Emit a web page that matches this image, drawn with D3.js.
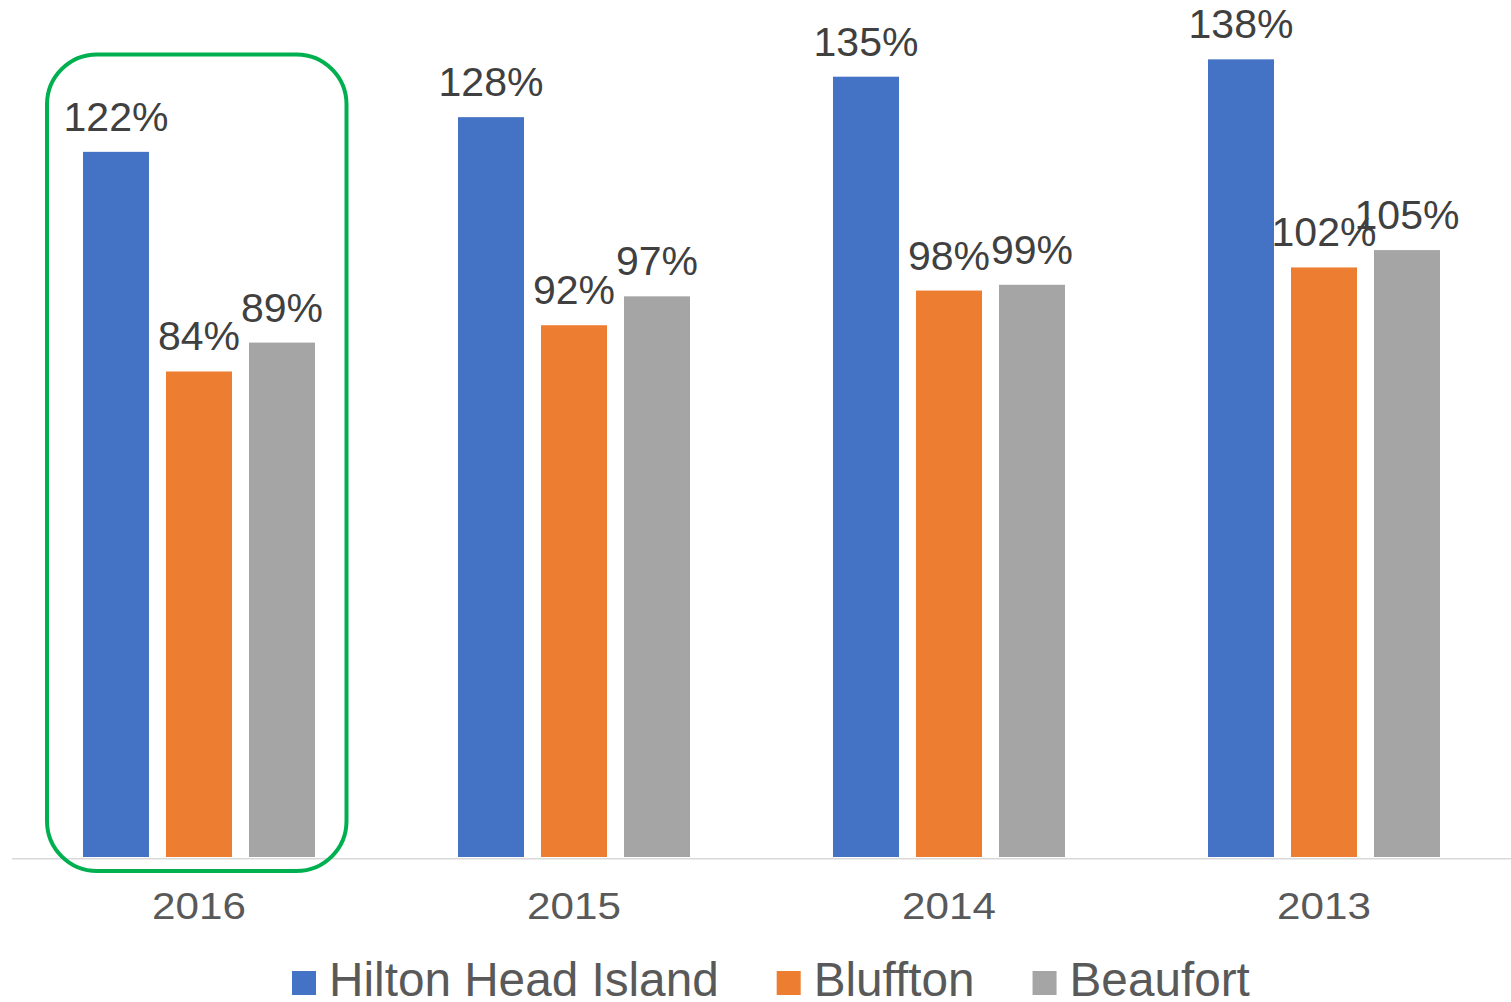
<!DOCTYPE html>
<html>
<head>
<meta charset="utf-8">
<script src="https://cdn.jsdelivr.net/npm/d3@7"></script>
<style>
  html, body { margin: 0; padding: 0; background: #ffffff; }
  svg { display: block; font-family: Arial, "Liberation Sans", sans-serif; }
</style>
</head>
<body>
<svg id="chart" width="1511" height="1002"></svg>
<script>
// Years on the category axis
const years = ["2016", "2015", "2014", "2013"];
// Series names (legend order)
const seriesNames = ["Hilton Head Island", "Bluffton", "Beaufort"];
// Percentages per series, aligned with years
const hiltonHead = [122, 128, 135, 138];
const bluffton = [84, 92, 98, 102];
const beaufort = [89, 97, 99, 105];
const seriesColors = ["#4472c4", "#ed7d31", "#a5a5a5"];
// Year that gets the highlight outline
const highlightYear = "2016";

const seriesValues = [hiltonHead, bluffton, beaufort];
const rows = years.map((y, i) => ({
  year: y,
  values: seriesNames.map((s, j) => ({ series: s, value: seriesValues[j][i], color: seriesColors[j] }))
}));

const svg = d3.select("#chart");

const plotLeft = 11.5, plotRight = 1511.5;
const baseY = 857;

const x0 = d3.scaleBand().domain(years).range([plotLeft, plotRight]).padding(0);
const groupWidth = 232;
const x1 = d3.scaleBand()
  .domain(seriesNames)
  .range([(x0.bandwidth() - groupWidth) / 2, (x0.bandwidth() + groupWidth) / 2])
  .paddingInner(17 / 83)
  .paddingOuter(0);
const y = d3.scaleLinear().domain([0, 140]).range([baseY, baseY - 140 * 5.78]);

// Bars
const groups = svg.append("g").selectAll("g")
  .data(rows).join("g")
  .attr("transform", d => `translate(${x0(d.year)},0)`);

groups.selectAll("rect")
  .data(d => d.values).join("rect")
  .attr("x", d => x1(d.series))
  .attr("width", x1.bandwidth())
  .attr("y", d => y(d.value))
  .attr("height", d => y(0) - y(d.value))
  .attr("fill", d => d.color);

// Value labels above bars
groups.selectAll("text.value")
  .data(d => d.values).join("text")
  .attr("class", "value")
  .attr("x", d => x1(d.series) + x1.bandwidth() / 2)
  .attr("y", d => y(d.value) - 21)
  .attr("text-anchor", "middle")
  .attr("font-size", 41)
  .attr("fill", "#404040")
  .text(d => d.value + "%");

// Category axis
const xAxis = d3.axisBottom(x0).tickSize(0).tickPadding(0);
const axisG = svg.append("g")
  .attr("transform", `translate(0,${baseY + 1.3})`)
  .call(xAxis);
axisG.select(".domain")
  .attr("stroke", "#d9d9d9")
  .attr("stroke-width", 1.5);
axisG.selectAll(".tick text")
  .attr("font-size", 37)
  .attr("font-family", "Arial, 'Liberation Sans', sans-serif")
  .attr("fill", "#595959")
  .attr("dy", null)
  .attr("y", 0)
  .attr("transform", "translate(0,60.5) scale(1.14,1)");

// Highlight outline around one year
const hx = x0(highlightYear);
svg.append("rect")
  .attr("x", hx + 35.5)
  .attr("y", 54.5)
  .attr("width", 299.5)
  .attr("height", 816.5)
  .attr("rx", 50)
  .attr("ry", 50)
  .attr("fill", "none")
  .attr("stroke", "#00b050")
  .attr("stroke-width", 4);

// Legend
const legend = svg.append("g").attr("transform", "translate(292,0)");
let lx = 0;
seriesNames.forEach((name, i) => {
  const g = legend.append("g").attr("transform", `translate(${lx},0)`);
  g.append("rect")
    .attr("x", 0).attr("y", 971)
    .attr("width", 24).attr("height", 24)
    .attr("fill", seriesColors[i]);
  const t = g.append("text")
    .attr("x", 37).attr("y", 996)
    .attr("font-size", 47.7)
    .attr("fill", "#595959")
    .text(name);
  lx += 37 + t.node().getComputedTextLength() + 58;
});
</script>
</body>
</html>
